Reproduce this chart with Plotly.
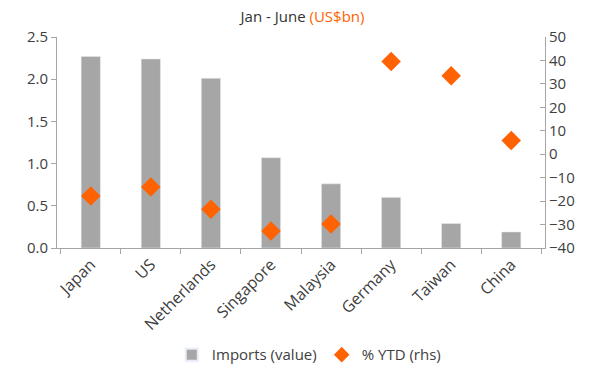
import plotly.graph_objects as go

categories = ["Japan", "US", "Netherlands", "Singapore", "Malaysia", "Germany", "Taiwan", "China"]
imports_value = [2.27, 2.24, 2.01, 1.07, 0.76, 0.60, 0.29, 0.19]
ytd_pct = [-17.8, -14.0, -23.5, -32.7, -29.8, 39.5, 33.5, 5.8]
left_ticks = [0.0, 0.5, 1.0, 1.5, 2.0, 2.5]
right_ticks = [-40, -30, -20, -10, 0, 10, 20, 30, 40, 50]

FONT = "Open Sans"
TXT = "#404040"
AX = "#A6A6A6"

fig = go.Figure()
fig.add_trace(go.Bar(
    x=categories, y=imports_value, name="Imports (value)",
    marker=dict(color="#A6A6A6"), yaxis="y",
))
fig.add_trace(go.Scatter(
    x=categories, y=ytd_pct, name="% YTD (rhs)", mode="markers",
    marker=dict(symbol="diamond", color="#FF6200", size=15), yaxis="y2",
))

fig.update_layout(
    width=601, height=375,
    margin=dict(l=49, r=64, t=29, b=135, autoexpand=False),
    paper_bgcolor="white", plot_bgcolor="white",
    font=dict(family=FONT, size=16, color=TXT),
    bargap=0.68,
    title=dict(
        text="Jan - June <span style='color:#FF6200'>(US$bn)</span>",
        x=0.49, xanchor="center", y=1.0, yanchor="top", pad=dict(t=3),
        font=dict(family=FONT, size=15, color="#333333"),
    ),
    xaxis=dict(
        showline=True, linecolor=AX, linewidth=1,
        ticks="outside", ticklen=5, tickcolor=AX, tickson="boundaries",
        tickangle=-45, tickfont=dict(size=16, color=TXT),
        showgrid=False, automargin=False,
    ),
    yaxis=dict(
        range=[0, 2.5], tickvals=left_ticks, ticktext=[f"{v:.1f}" for v in left_ticks],
        showline=True, linecolor=AX, linewidth=1,
        ticks="outside", ticklen=5, tickcolor=AX,
        showgrid=False, zeroline=False, tickfont=dict(size=15, color=TXT),
        automargin=False,
    ),
    yaxis2=dict(
        range=[-40, 50], tickvals=right_ticks, overlaying="y", side="right",
        showline=True, linecolor=AX, linewidth=1,
        ticks="inside", ticklen=5, tickcolor=AX,
        showgrid=False, zeroline=False, tickfont=dict(size=15, color=TXT),
        automargin=False,
    ),
    legend=dict(
        orientation="h", x=0.516, xanchor="center",
        yref="container", y=0.075, yanchor="middle",
        font=dict(size=15, color=TXT), itemsizing="constant",
    ),
)

fig.write_html("out.html")
